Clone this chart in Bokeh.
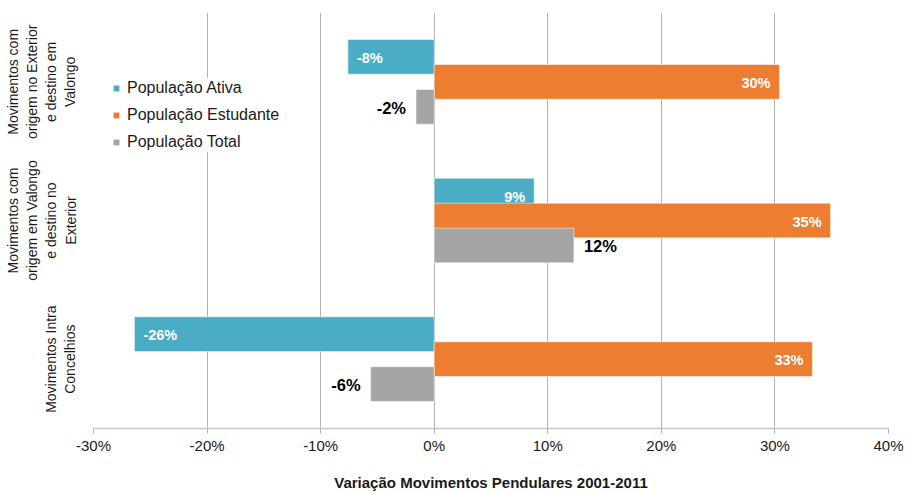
from bokeh.plotting import figure
from bokeh.models import FactorRange, Legend, LegendItem, NumeralTickFormatter, FixedTicker, ColumnDataSource
from bokeh.transform import dodge
from bokeh.core.properties import value
from bokeh.embed import file_html
from bokeh.resources import INLINE

# categories, top to bottom
categories = [
    "Movimentos com\norigem no Exterior\ne destino em\nValongo",
    "Movimentos com\norigem em Valongo\ne destino no\nExterior",
    "Movimentos Intra\nConcelhios",
]
series_names = ["População Ativa", "População Estudante", "População Total"]
ativa = [-0.076, 0.088, -0.264]
estudante = [0.304, 0.349, 0.333]
total = [-0.016, 0.123, -0.056]
x_ticks = [-0.3, -0.2, -0.1, 0.0, 0.1, 0.2, 0.3, 0.4]

colors = ["#4bacc6", "#ed7d31", "#a5a5a5"]
FONT = "Liberation Sans"

p = figure(width=908, height=493,
           y_range=FactorRange(factors=categories[::-1], range_padding=0),
           x_range=(-0.3, 0.4),
           output_backend="svg", toolbar_location=None,
           min_border_left=93, min_border_right=20, min_border_top=12, min_border_bottom=60)
p.outline_line_color = None
p.background_fill_color = "white"
p.border_fill_color = "white"

def lab(v):
    return f"{round(v * 100):.0f}%"

offsets = [0.18, 0.0, -0.18]
renderers = []
for vals, off, col in zip([ativa, estudante, total], offsets, colors):
    src = ColumnDataSource(dict(y=categories, x=vals))
    r = p.hbar(y=dodge("y", off, range=p.y_range), right="x", left=0, height=0.25,
               source=src, fill_color=col, line_color="white", line_alpha=0.5, line_width=1)
    renderers.append(r)

# data labels
def add_labels(vals, off, inside, color, size):
    if inside:
        align = ["left" if v < 0 else "right" for v in vals]
        xo = [9 if v < 0 else -9 for v in vals]
    else:
        align = ["right" if v < 0 else "left" for v in vals]
        xo = [-10 if v < 0 else 10 for v in vals]
    src = ColumnDataSource(dict(y=categories, x=vals, t=[lab(v) for v in vals], a=align, xo=xo))
    p.text(x="x", y=dodge("y", off, range=p.y_range), text="t", source=src,
           text_align="a", x_offset="xo", y_offset=1, text_baseline="middle",
           text_color=color, text_font=value(FONT), text_font_style="bold",
           text_font_size=size)

add_labels(ativa, 0.18, True, "white", "14.5px")
add_labels(estudante, 0.0, True, "white", "14.5px")
add_labels(total, -0.18, False, "black", "16.5px")

# x axis
p.xaxis.ticker = FixedTicker(ticks=x_ticks)
p.xaxis.formatter = NumeralTickFormatter(format="0%")
p.xaxis.axis_label = "Variação Movimentos Pendulares 2001-2011"
p.xaxis.axis_label_text_font = FONT
p.xaxis.axis_label_text_font_style = "bold"
p.xaxis.axis_label_text_font_size = "15px"
p.xaxis.axis_label_text_color = "#1a1a1a"
p.xaxis.axis_label_standoff = 17
p.xaxis.major_label_text_font = FONT
p.xaxis.major_label_text_font_size = "15px"
p.xaxis.major_label_text_color = "#1a1a1a"
p.xaxis.major_label_standoff = 3
p.xaxis.axis_line_color = "#c8c8c8"
p.xaxis.axis_line_width = 1.5
p.xaxis.major_tick_line_color = "#b0b0b0"
p.xaxis.major_tick_in = 0
p.xaxis.major_tick_out = 5
p.xaxis.minor_tick_line_color = None

p.xgrid.ticker = FixedTicker(ticks=x_ticks)
p.xgrid.grid_line_color = "#b4b4b4"
p.ygrid.grid_line_color = None

# y axis
p.yaxis.major_label_orientation = "vertical"
p.yaxis.major_label_text_font = FONT
p.yaxis.major_label_text_font_size = "14px"
p.yaxis.major_label_text_color = "#1a1a1a"
p.yaxis.major_label_standoff = 9
p.yaxis.axis_line_color = None
p.yaxis.major_tick_line_color = None
p.yaxis.minor_tick_line_color = None

legend = Legend(items=[LegendItem(label=n, renderers=[r]) for n, r in zip(series_names, renderers)],
                location=(19, 276))
legend.label_text_font = FONT
legend.label_text_font_size = "16px"
legend.label_text_color = "#1a1a1a"
legend.glyph_width = 8
legend.glyph_height = 8
legend.label_standoff = 7
legend.label_height = 20
legend.spacing = 7
legend.padding = 5
legend.border_line_color = None
legend.background_fill_color = "white"
legend.background_fill_alpha = 1
p.add_layout(legend)

open("out.html", "w").write(file_html(p, INLINE))
